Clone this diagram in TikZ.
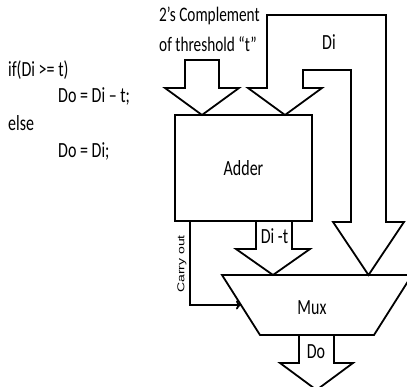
\documentclass[tikz,border=0pt]{standalone}
\usepackage{fontspec}
\setmainfont{Carlito}
\newfontfamily\arialfont{Liberation Sans}
\usetikzlibrary{arrows.meta}
\newcommand{\tall}[1]{\scalebox{1}[1.35]{#1}}

\begin{document}
\begin{tikzpicture}[x=1pt,y=-1pt,
  blk/.style={draw,line width=1.8pt,line join=miter},
  lbl/.style={font=\fontsize{16}{18}\selectfont,inner sep=0pt}]
\useasboundingbox (0,0) rectangle (407,387);

\node[lbl,anchor=base west] (cond) at (8,77) {\tall{if(Di >= t)}};
\node[lbl,anchor=base west] (then) at (58,103) {\tall{Do = Di – t;}};
\node[lbl,anchor=base west] (els) at (8,131) {\tall{else}};
\node[lbl,anchor=base west] (other) at (58,158) {\tall{Do = Di;}};

\node[lbl,font=\fontsize{15.3}{18}\selectfont,anchor=base west] (comp1) at (159,22) {\tall{2’s Complement}};
\node[lbl,font=\fontsize{15.3}{18}\selectfont,anchor=base west] (comp2) at (159,52) {\tall{of threshold “t”}};

\node[blk,lbl,minimum width=137pt,minimum height=106pt] (adder) at (243.5,168) {\tall{Adder}};

\coordinate (mtl) at (222,275);
\coordinate (mtr) at (412,275);
\coordinate (mbr) at (374,335);
\coordinate (mbl) at (260,335);
\coordinate (muxin) at (241,305);
\draw[blk] (mtl) -- (mtr) -- (mbr) -- (mbl) -- cycle;
\node[lbl,anchor=base] (mux) at (312,315) {\tall{Mux}};

\draw[blk] (185,60) -- (219,60) -- (219,88) -- (239,88) -- (202,115) -- (165,88) -- (185,88) -- cycle;

\draw[blk] (303,88) -- (303,70) -- (351,70) -- (351,222) -- (333,222) -- (368.5,275) -- (404,222)
  -- (386,222) -- (386,15) -- (267,15) -- (267,88) -- (248,88) -- (285,115) -- (322,88) -- cycle;
\node[lbl,anchor=base] (di) at (329,50) {\tall{Di}};

\draw[blk] (256,221) -- (256,249) -- (236,249) -- (273,275) -- (310,249) -- (292,249) -- (292,221);
\node[lbl,anchor=base] (dit) at (274.5,244) {\tall{Di -t}};

\draw[blk] (299,335) -- (299,363) -- (280,363) -- (316.5,390) -- (353,363) -- (334,363) -- (334,335);
\node[lbl,anchor=base] (do) at (316,358) {\tall{Do}};

\draw[line width=1.8pt,-{To[length=5pt,width=9pt]}] ([xshift=16pt]adder.south west) |- (muxin);
\node[font=\arialfont\fontsize{10}{12}\selectfont,inner sep=0pt,rotate=90] (carry) at (182,264) {\scalebox{1.4}[1]{Carry out}};
\end{tikzpicture}
\end{document}
